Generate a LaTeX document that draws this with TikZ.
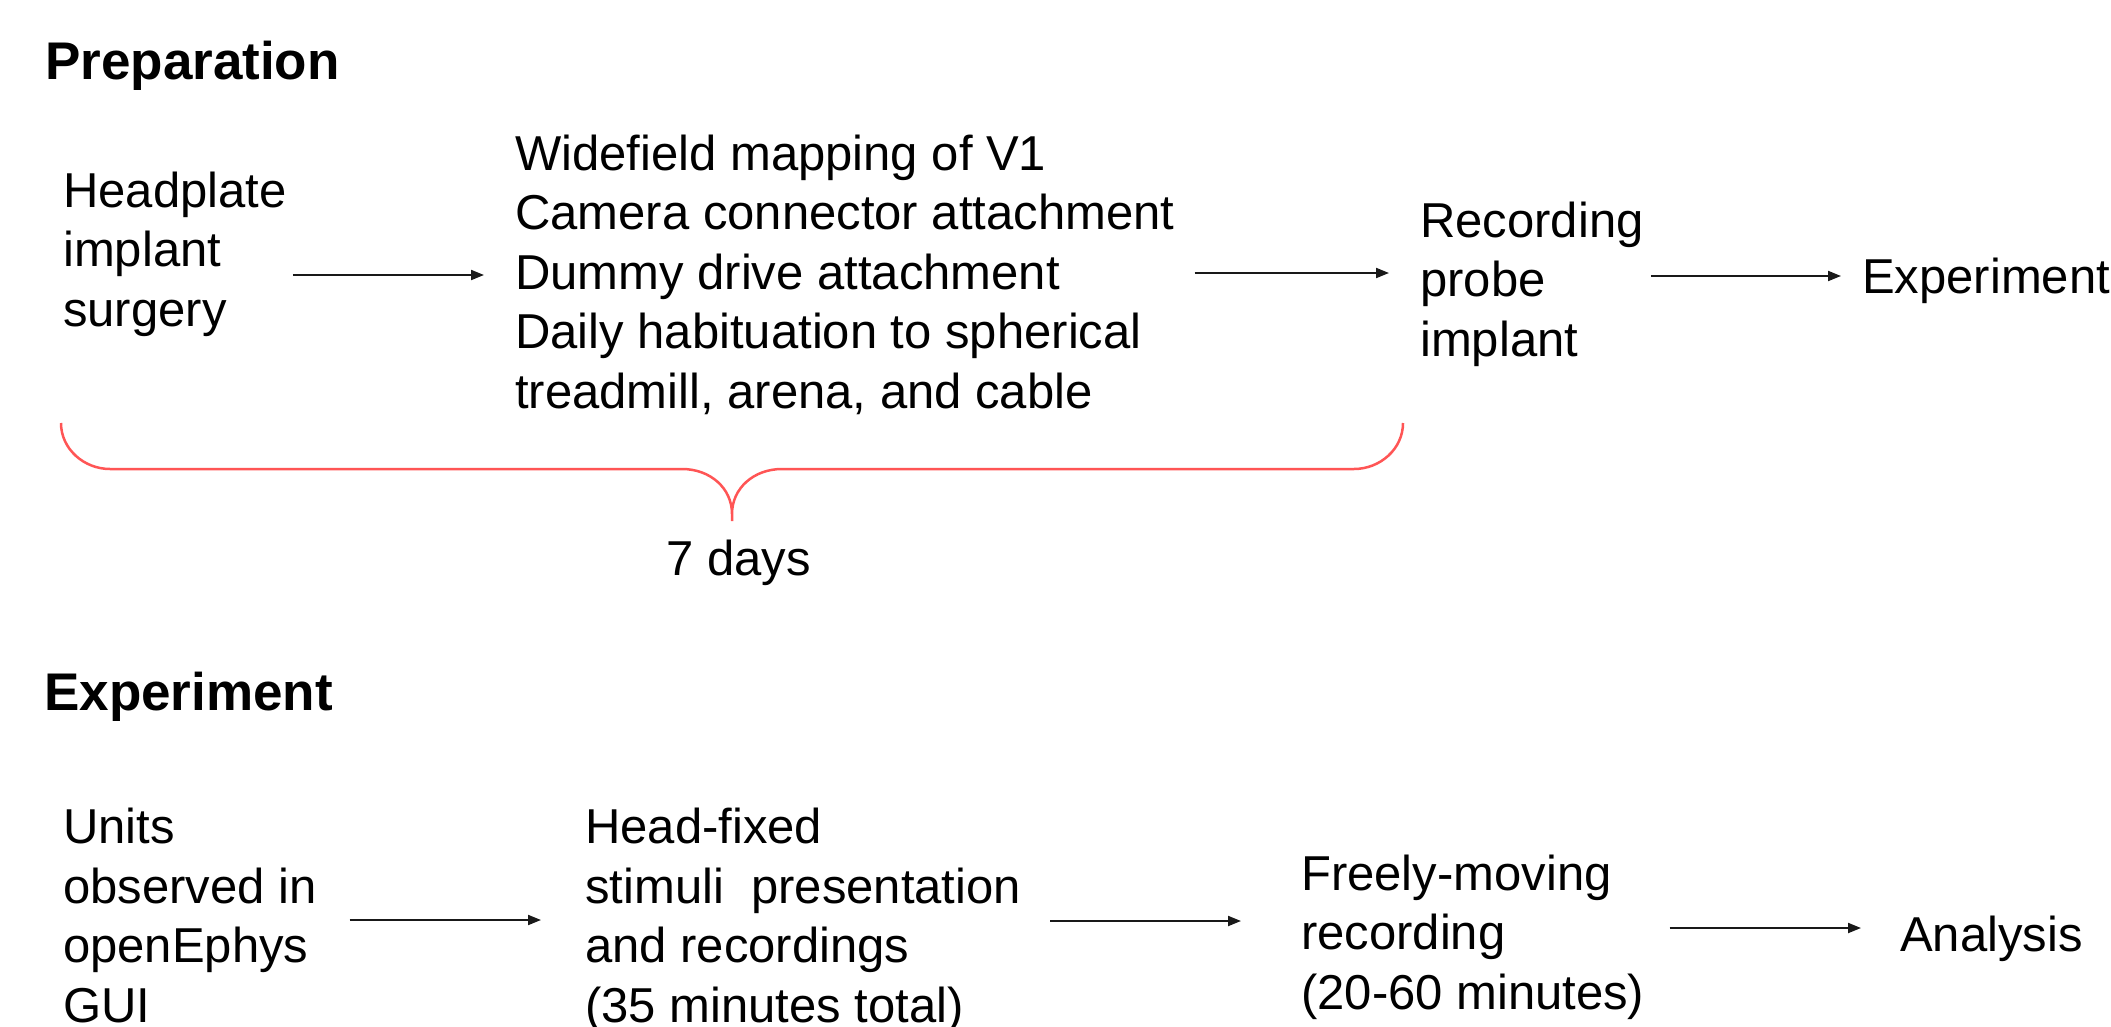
\documentclass[tikz,border=0pt]{standalone}
\usepackage{fontspec}
\setmainfont{Liberation Sans}
\usetikzlibrary{arrows.meta,calc}
\definecolor{bracered}{RGB}{255,85,85}
\definecolor{arrowgray}{RGB}{25,25,25}
\begin{document}
\begin{tikzpicture}[x=1pt,y=-1pt,
  % multi-line nodes are placed by the baseline of their last line
  txt/.style={anchor=base west,inner sep=0pt,align=left,font=\fontsize{49}{59.5}\selectfont},
  head/.style={anchor=base west,inner sep=0pt,font=\fontsize{53}{63}\selectfont\bfseries},
  arr/.style={-{Triangle[length=13pt,width=10pt]},line width=2pt,draw=arrowgray},
  brace/.style={draw=bracered,line width=2.5pt}]
\useasboundingbox[fill=white] (0,0) rectangle (2111,1027);

% ---- Preparation ----
\node[head] (hprep) at (45,80) {Preparation};
\node[txt] (hp)  at (63,326)   {Headplate\\implant\\surgery};
\node[txt] (wf)  at (515,408)  {Widefield mapping of V1\\Camera connector attachment\\Dummy drive attachment\\Daily habituation to spherical\\treadmill, arena, and cable};
\node[txt] (rec) at (1420,356) {Recording\\probe\\implant};
\node[txt] (ex1) at (1862,293) {Experiment};
\node[txt] (days) at (666,575) {7 days};

\draw[arr] ($(hp.east |- 0,275)+(6,0)$)   -- ($(wf.west |- 0,275)+(-31,0)$);
\draw[arr] ($(wf.east |- 0,273)+(20,0)$)  -- ($(rec.west |- 0,273)+(-31,0)$);
\draw[arr] ($(rec.east |- 0,276)+(7,0)$)  -- ($(ex1.west |- 0,276)+(-21,0)$);

% curly brace spanning the preparation steps
\draw[brace] (61,423) .. controls (61,449) and (84,469) .. (110,469)
  -- (682,469) .. controls (710,469) and (732,488) .. (732,514) -- (732,521)
  (732,514) .. controls (732,488) and (754,469) .. (782,469)
  -- (1354,469) .. controls (1380,469) and (1403,449) .. (1403,423);

% ---- Experiment ----
\node[head] (hexp) at (44,710) {Experiment};
\node[txt] (units) at (63,1022)  {Units\\observed in\\openEphys\\GUI};
\node[txt] (hf)    at (585,1022) {Head-fixed\\stimuli\ \ presentation\\and recordings\\(35 minutes total)};
\node[txt] (fm)    at (1301,1009) {Freely-moving\\recording\\(20-60 minutes)};
\node[txt] (an)    at (1900,951) {Analysis};

\draw[arr] ($(units.east |- 0,920)+(33,0)$) -- ($(hf.west |- 0,920)+(-44,0)$);
\draw[arr] ($(hf.east |- 0,921)+(29,0)$)    -- ($(fm.west |- 0,921)+(-60,0)$);
\draw[arr] ($(fm.east |- 0,928)+(25,0)$)    -- ($(an.west |- 0,928)+(-39,0)$);
\end{tikzpicture}
\end{document}
